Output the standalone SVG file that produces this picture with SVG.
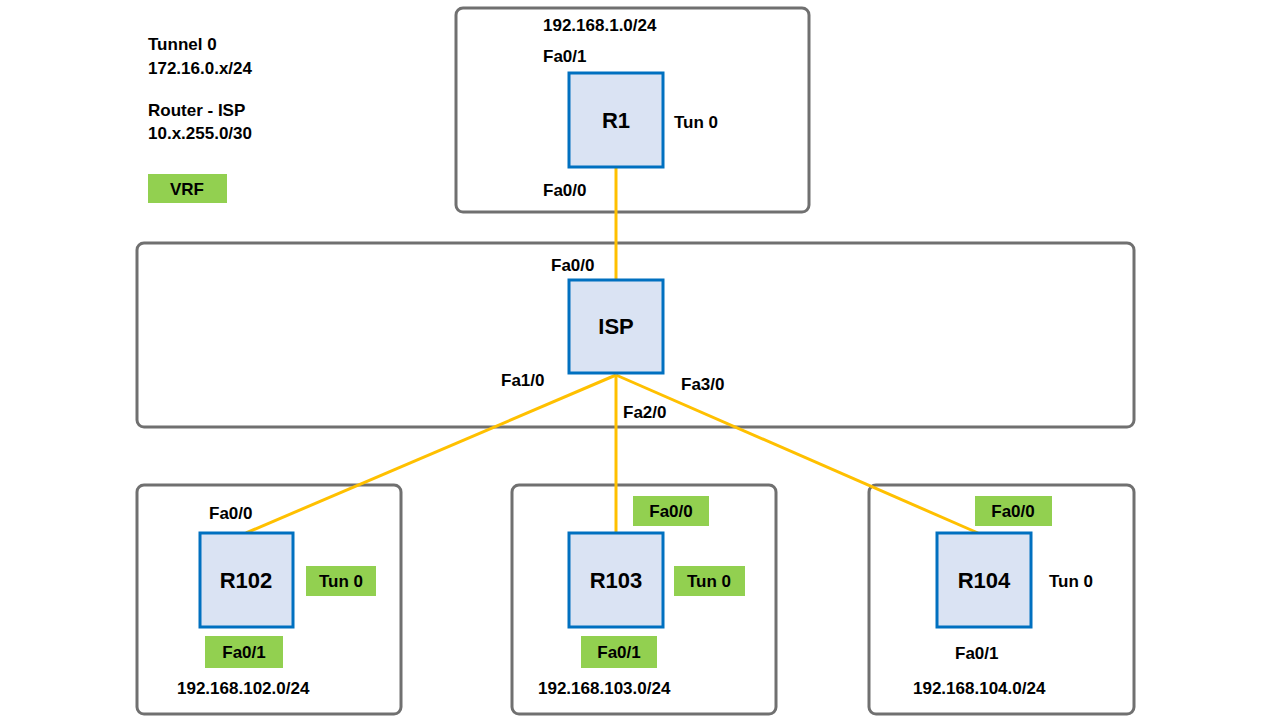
<svg xmlns="http://www.w3.org/2000/svg" width="1280" height="720" viewBox="0 0 1280 720">
<style>
.box{fill:#fff;stroke:#707070;stroke-width:3}
.rt{fill:#dae3f3;stroke:#0070c0;stroke-width:3}
.g{fill:#92d050}
text{font-family:"Liberation Sans",Arial,sans-serif;font-weight:bold;font-size:17px;fill:#000}
.big{font-size:22px}
.ln{stroke:#ffc000;stroke-width:3;fill:none}
</style>
<rect width="1280" height="720" fill="#fff"/>
<g id="legend">
<text x="148" y="50">Tunnel 0</text>
<text x="148" y="74">172.16.0.x/24</text>
<text x="148" y="116">Router - ISP</text>
<text x="148" y="139">10.x.255.0/30</text>
<rect class="g" x="148" y="174" width="79" height="29"/>
<text x="187" y="195" text-anchor="middle">VRF</text>
</g>
<g id="area-r1"><rect class="box" x="456" y="8" width="353" height="204" rx="7"/></g>
<g id="area-isp"><rect class="box" x="137" y="243" width="997" height="184" rx="7"/></g>
<g id="area-r102"><rect class="box" x="137" y="485" width="264" height="229" rx="7"/></g>
<g id="area-r103"><rect class="box" x="512" y="485" width="264" height="229" rx="7"/></g>
<g id="area-r104"><rect class="box" x="869" y="485" width="265" height="229" rx="7"/></g>
<g id="connectors">
<line class="ln" x1="616" y1="168" x2="616" y2="280"/>
<line class="ln" x1="616" y1="375" x2="246" y2="533"/>
<line class="ln" x1="616" y1="375" x2="616" y2="533"/>
<line class="ln" x1="616" y1="375" x2="978" y2="533"/>
</g>
<g id="R1">
<rect class="rt" x="569" y="73" width="94" height="94"/>
<text class="big" x="616" y="128" text-anchor="middle">R1</text>
<text x="543" y="31">192.168.1.0/24</text>
<text x="543" y="62">Fa0/1</text>
<text x="674" y="128">Tun 0</text>
<text x="543" y="196">Fa0/0</text>
</g>
<g id="ISP">
<rect class="rt" x="569" y="280" width="94" height="93"/>
<text class="big" x="616" y="334" text-anchor="middle">ISP</text>
<text x="551" y="271">Fa0/0</text>
<text x="501" y="386">Fa1/0</text>
<text x="623" y="418">Fa2/0</text>
<text x="681" y="390">Fa3/0</text>
</g>
<g id="R102">
<rect class="rt" x="200" y="533" width="93" height="94"/>
<text class="big" x="246" y="588" text-anchor="middle">R102</text>
<text x="209" y="519">Fa0/0</text>
<rect class="g" x="306" y="566" width="70" height="30"/>
<text x="341" y="587" text-anchor="middle">Tun 0</text>
<rect class="g" x="205" y="636" width="78" height="32"/>
<text x="244" y="658" text-anchor="middle">Fa0/1</text>
<text x="177" y="694">192.168.102.0/24</text>
</g>
<g id="R103">
<rect class="rt" x="569" y="533" width="94" height="94"/>
<text class="big" x="616" y="588" text-anchor="middle">R103</text>
<rect class="g" x="633" y="496" width="76" height="30"/>
<text x="671" y="517" text-anchor="middle">Fa0/0</text>
<rect class="g" x="674" y="566" width="71" height="30"/>
<text x="709" y="587" text-anchor="middle">Tun 0</text>
<rect class="g" x="581" y="636" width="76" height="32"/>
<text x="619" y="658" text-anchor="middle">Fa0/1</text>
<text x="538" y="694">192.168.103.0/24</text>
</g>
<g id="R104">
<rect class="rt" x="937" y="533" width="94" height="94"/>
<text class="big" x="984" y="588" text-anchor="middle">R104</text>
<rect class="g" x="975" y="496" width="77" height="30"/>
<text x="1013" y="517" text-anchor="middle">Fa0/0</text>
<text x="1049" y="587">Tun 0</text>
<text x="955" y="659">Fa0/1</text>
<text x="913" y="694">192.168.104.0/24</text>
</g>
</svg>
